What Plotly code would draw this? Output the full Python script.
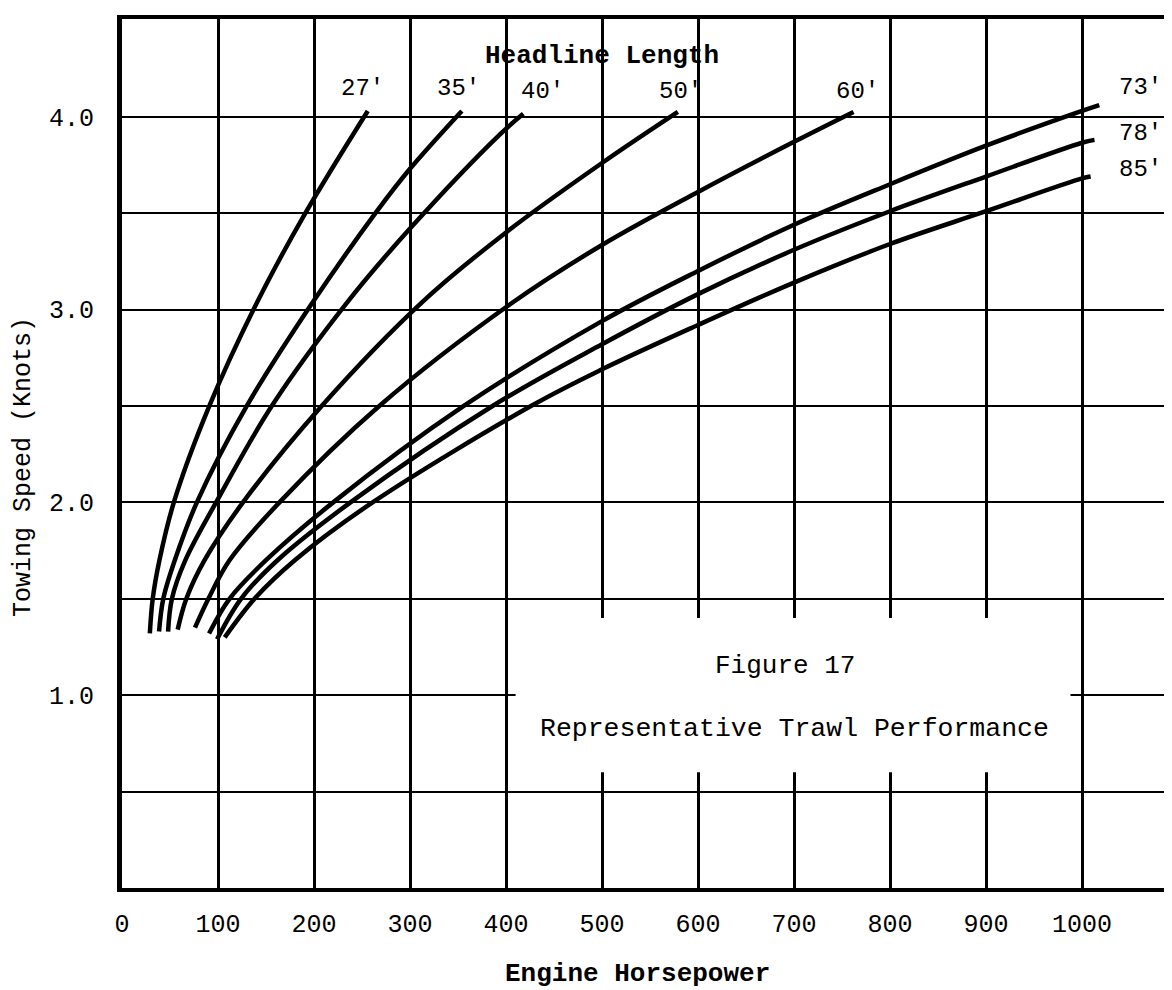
import plotly.graph_objects as go

# ---------------- data ----------------
hp_ticks = [0, 100, 200, 300, 400, 500, 600, 700, 800, 900, 1000]
hp_ticktext = ["0", "100", "200", "300", "400", "500", "600", "700", "800", "900", "1000"]
speed_ticks = [0.5, 1.0, 1.5, 2.0, 2.5, 3.0, 3.5, 4.0]
speed_ticktext = ["", "1.0", "", "2.0", "", "3.0", "", "4.0"]

headlines = ["27'", "35'", "40'", "50'", "60'", "73'", "78'", "85'"]

hp_27 = [29, 32, 39, 54, 91, 141, 191, 256]
kn_27 = [1.32, 1.50, 1.70, 2.00, 2.50, 3.04, 3.50, 4.03]

hp_35 = [38.6, 43, 55, 78, 130, 199, 264, 300, 354]
kn_35 = [1.33, 1.50, 1.70, 2.00, 2.50, 3.04, 3.50, 3.73, 4.03]

hp_40 = [48, 52, 66, 98, 156, 235, 300, 394, 418]
kn_40 = [1.33, 1.50, 1.70, 2.00, 2.50, 3.04, 3.42, 3.91, 4.015]

hp_50 = [58, 67, 86, 126, 208, 313, 400, 500, 579]
kn_50 = [1.34, 1.50, 1.70, 2.00, 2.50, 3.04, 3.40, 3.76, 4.025]

hp_60 = [76, 90, 112, 164, 268, 405, 500, 600, 700, 762]
kn_60 = [1.35, 1.50, 1.70, 2.00, 2.50, 3.03, 3.335, 3.61, 3.87, 4.025]

hp_73 = [90.7, 112, 150, 220, 356, 500, 600, 700, 800, 900, 1000, 1018]
kn_73 = [1.32, 1.50, 1.70, 2.00, 2.50, 2.94, 3.20, 3.44, 3.65, 3.85, 4.03, 4.06]

hp_78 = [99, 124, 162, 238, 386, 500, 600, 700, 800, 900, 1000, 1013]
kn_78 = [1.29, 1.50, 1.70, 2.00, 2.50, 2.82, 3.08, 3.31, 3.51, 3.69, 3.865, 3.88]

hp_85 = [107, 138, 180, 261, 426, 500, 600, 700, 800, 900, 1000, 1009]
kn_85 = [1.30, 1.50, 1.70, 2.00, 2.50, 2.69, 2.92, 3.14, 3.34, 3.51, 3.68, 3.69]

curves_hp = [hp_27, hp_35, hp_40, hp_50, hp_60, hp_73, hp_78, hp_85]
curves_kn = [kn_27, kn_35, kn_40, kn_50, kn_60, kn_73, kn_78, kn_85]

label_hp = [250, 351, 438, 582, 766, 1061, 1061, 1061]
label_kn = [4.145, 4.145, 4.13, 4.13, 4.13, 4.15, 3.915, 3.725]

MONO = "Liberation Mono, Courier New, monospace"

fig = go.Figure()

for name, xs, ys in zip(headlines, curves_hp, curves_kn):
    fig.add_trace(go.Scatter(
        x=xs, y=ys, mode="lines", name=name,
        line=dict(color="black", width=4.5, shape="spline", smoothing=1.0),
        hoverinfo="skip", showlegend=False,
    ))

# white panel that interrupts the grid around the caption
fig.add_shape(type="rect", xref="x", yref="y", x0=410, x1=988, y0=0.60, y1=1.40,
              fillcolor="white", line=dict(width=0), layer="between")

annotations = []
for name, x, y in zip(headlines, label_hp, label_kn):
    annotations.append(dict(x=x, y=y, xref="x", yref="y", text=name, showarrow=False,
                            font=dict(family=MONO, size=24, color="black"),
                            xanchor="center", yanchor="middle"))

annotations.append(dict(x=500, y=4.316, xref="x", yref="y", text="<b>Headline Length</b>",
                        showarrow=False, font=dict(family=MONO, size=26, color="black"),
                        xanchor="center", yanchor="middle"))
annotations.append(dict(x=690.6, y=1.151, xref="x", yref="y", text="Figure 17",
                        showarrow=False, font=dict(family=MONO, size=26, color="black"),
                        xanchor="center", yanchor="middle"))
annotations.append(dict(x=700, y=0.826, xref="x", yref="y",
                        text="Representative Trawl Performance",
                        showarrow=False, font=dict(family=MONO, size=26.5, color="black"),
                        xanchor="center", yanchor="middle"))
annotations.append(dict(x=0.4914, y=-0.0985, xref="paper", yref="paper",
                        text="<b>Engine Horsepower</b>", showarrow=False,
                        font=dict(family=MONO, size=26, color="black"),
                        xanchor="center", yanchor="middle"))
annotations.append(dict(x=-0.0933, y=0.4845, xref="paper", yref="paper",
                        text="Towing Speed (Knots)", textangle=-90, showarrow=False,
                        font=dict(family=MONO, size=25, color="black"),
                        xanchor="center", yanchor="middle"))

# the page body carries an 8px default margin, so the margins are trimmed by 8px
fig.update_layout(
    width=1172, height=990,
    margin=dict(l=114, r=8, t=7, b=110),
    paper_bgcolor="white", plot_bgcolor="white",
    annotations=annotations,
    showlegend=False,
)

fig.update_xaxes(
    range=[0, 1093.75], tickvals=hp_ticks, ticktext=hp_ticktext,
    showgrid=True, gridcolor="black", gridwidth=2.5,
    zeroline=False, showline=True, linecolor="black", linewidth=4, mirror=True,
    ticks="", ticklabelstandoff=10,
    tickfont=dict(family=MONO, size=25, color="black"),
)
fig.update_yaxes(
    range=[0, 4.507], tickvals=speed_ticks, ticktext=speed_ticktext,
    showgrid=True, gridcolor="black", gridwidth=1.5,
    zeroline=False, showline=True, linecolor="black", linewidth=5, mirror=False,
    ticks="", ticklabelstandoff=18,
    tickfont=dict(family=MONO, size=25, color="black"),
)

fig.write_html("out.html")
